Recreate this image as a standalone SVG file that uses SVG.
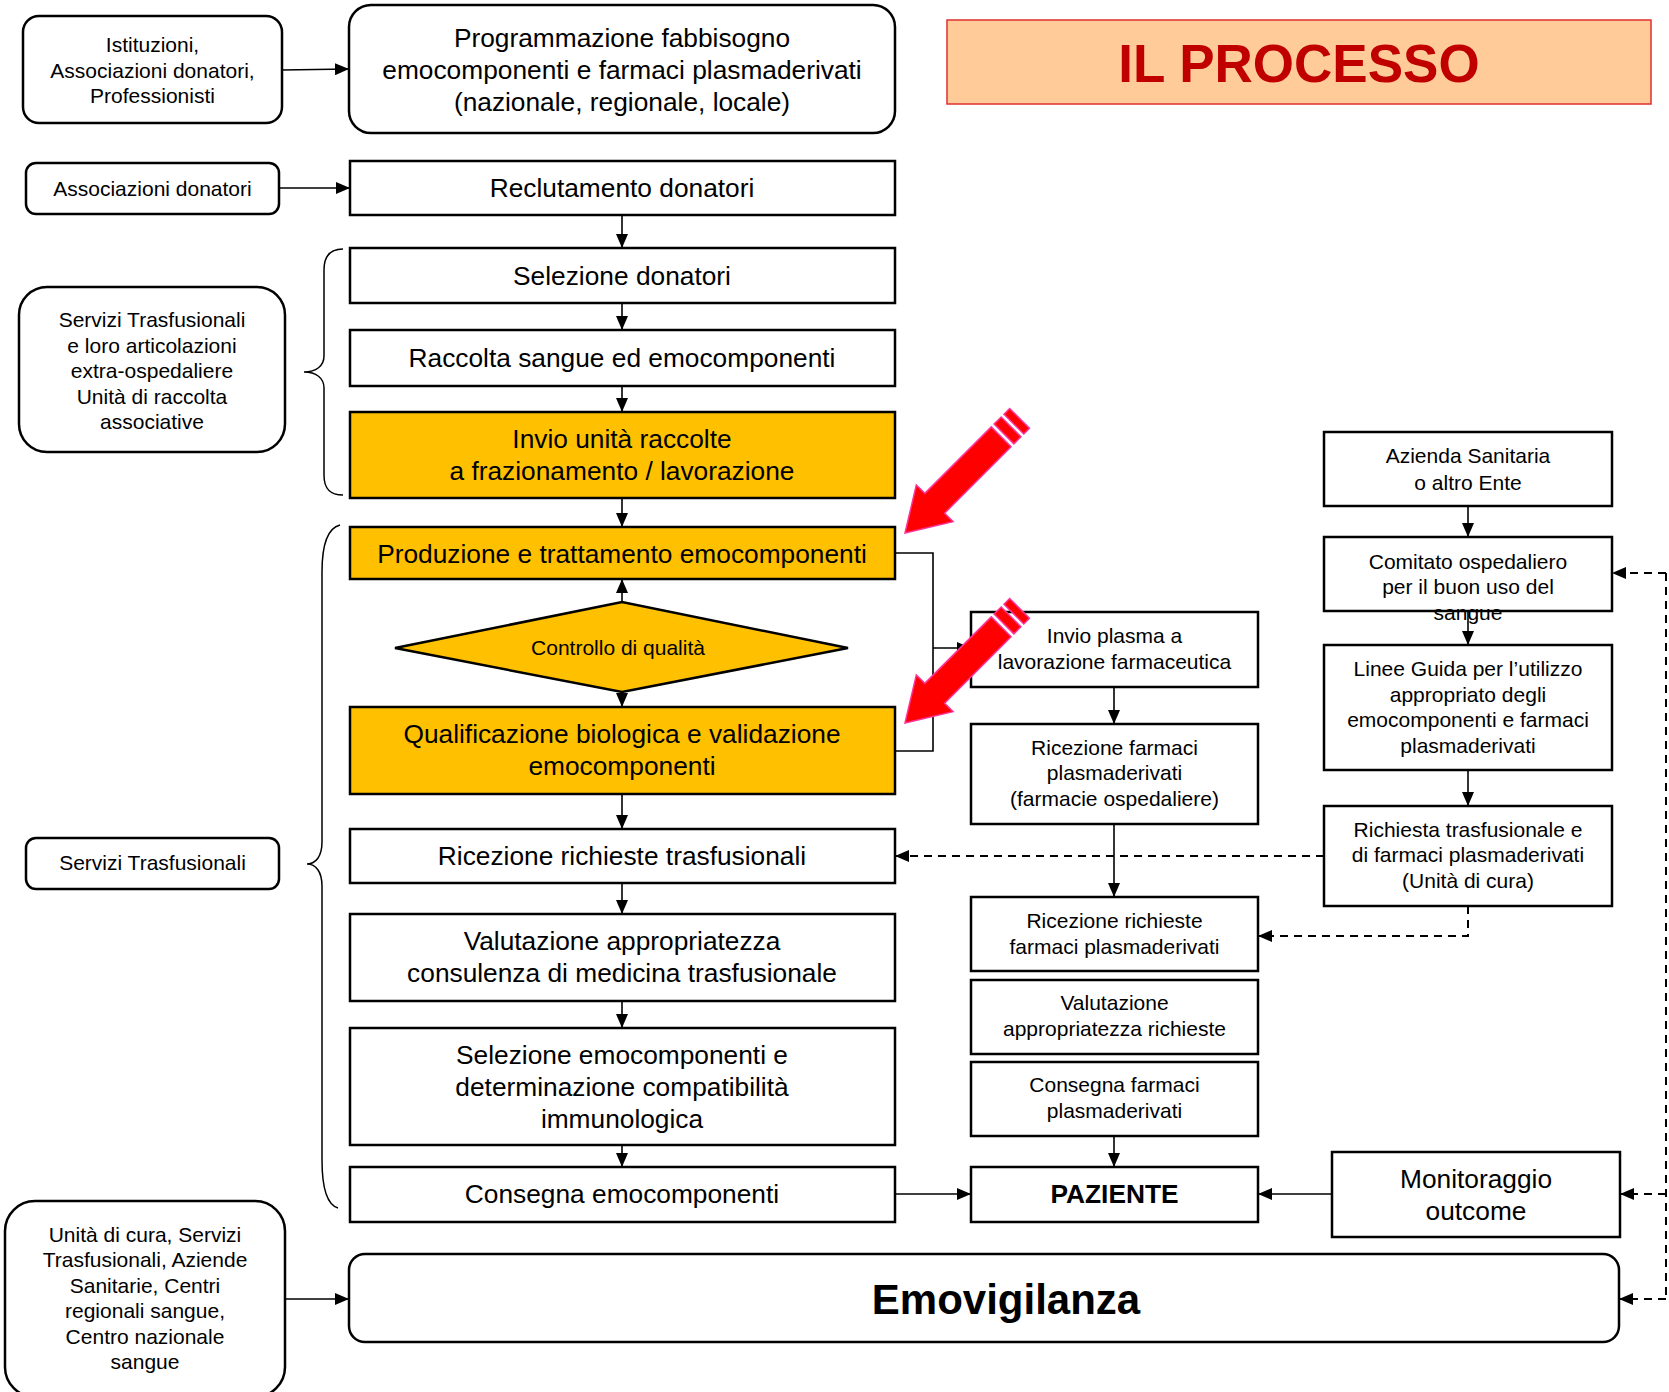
<svg xmlns="http://www.w3.org/2000/svg" width="1669" height="1392" viewBox="0 0 1669 1392">
<defs>
<marker id="ah" viewBox="0 0 14 12" refX="14" refY="6" markerWidth="14" markerHeight="12" orient="auto" markerUnits="userSpaceOnUse"><path d="M0,0 L14,6 L0,12 z" fill="#000"/></marker>
<g id="redarrow">
<polygon points="0,0 -42,-26 -42,-14 -136,-14 -136,14 -42,14 -42,26" />
<rect x="-150" y="-14" width="10" height="28"/>
<rect x="-162" y="-14" width="8" height="28"/>
</g>
</defs>
<style>
text{font-family:"Liberation Sans",Arial,sans-serif;fill:#000;text-anchor:middle}
.box{fill:#fff;stroke:#000;stroke-width:2.5}
.org{fill:#FFC000;stroke:#000;stroke-width:2.5}
.m{font-size:26.3px}
.s{font-size:21px}
.b{font-weight:bold}
.ln{fill:none;stroke:#000;stroke-width:1.6}
.ar{fill:none;stroke:#000;stroke-width:1.6;marker-end:url(#ah)}
.da{fill:none;stroke:#000;stroke-width:2;stroke-dasharray:8,6}
.dar{fill:none;stroke:#000;stroke-width:2;stroke-dasharray:8,6;marker-end:url(#ah)}
.brace{fill:none;stroke:#000;stroke-width:1.5}
.red{fill:#FF0000;stroke:#FF3399;stroke-width:1.5}
</style>
<rect width="1669" height="1392" fill="#fff"/>

<g id="title">
<rect x="947" y="20" width="704" height="84" fill="#FFCC99" stroke="#E03030" stroke-width="1.5"/>
<text x="1299" y="82" font-size="53" font-weight="bold" style="fill:#C00000">IL PROCESSO</text>
</g>

<g id="istituzioni">
<rect class="box" x="23" y="16" width="259" height="107" rx="16"/>
<text class="s" x="152.5" y="52">Istituzioni,</text>
<text class="s" x="152.5" y="78">Associazioni donatori,</text>
<text class="s" x="152.5" y="103">Professionisti</text>
</g>
<g id="programmazione">
<rect class="box" x="349" y="5" width="546" height="128" rx="22"/>
<text class="m" x="622" y="47">Programmazione fabbisogno</text>
<text class="m" x="622" y="79">emocomponenti e farmaci plasmaderivati</text>
<text class="m" x="622" y="111">(nazionale, regionale, locale)</text>
</g>
<g id="assoc">
<rect class="box" x="26" y="163" width="253" height="51" rx="10"/>
<text class="s" x="152.5" y="196">Associazioni donatori</text>
</g>
<g id="reclutamento">
<rect class="box" x="350" y="161" width="545" height="54"/>
<text class="m" x="622" y="197">Reclutamento donatori</text>
</g>
<g id="servizi1">
<rect class="box" x="19" y="287" width="266" height="165" rx="28"/>
<text class="s" x="152" y="327">Servizi Trasfusionali</text>
<text class="s" x="152" y="352.5">e loro articolazioni</text>
<text class="s" x="152" y="378">extra-ospedaliere</text>
<text class="s" x="152" y="403.5">Unità di raccolta</text>
<text class="s" x="152" y="429">associative</text>
</g>
<g id="selezione">
<rect class="box" x="350" y="248" width="545" height="55"/>
<text class="m" x="622" y="285">Selezione donatori</text>
</g>
<g id="raccolta">
<rect class="box" x="350" y="330" width="545" height="56"/>
<text class="m" x="622" y="367">Raccolta sangue ed emocomponenti</text>
</g>
<g id="invio">
<rect class="org" x="350" y="412" width="545" height="86"/>
<text class="m" x="622" y="448">Invio unità raccolte</text>
<text class="m" x="622" y="480">a frazionamento / lavorazione</text>
</g>
<g id="produzione">
<rect class="org" x="350" y="527" width="545" height="52"/>
<text class="m" x="622" y="563">Produzione e trattamento emocomponenti</text>
</g>
<g id="controllo">
<polygon class="org" points="395,648 622,602 848,648 622,692"/>
<text class="s" x="618" y="655">Controllo di qualità</text>
</g>
<g id="qualificazione">
<rect class="org" x="350" y="707" width="545" height="87"/>
<text class="m" x="622" y="743">Qualificazione biologica e validazione</text>
<text class="m" x="622" y="775">emocomponenti</text>
</g>
<g id="servizi2">
<rect class="box" x="26" y="838" width="253" height="51" rx="10"/>
<text class="s" x="152.5" y="870">Servizi Trasfusionali</text>
</g>
<g id="ricezione">
<rect class="box" x="350" y="829" width="545" height="54"/>
<text class="m" x="622" y="865">Ricezione richieste trasfusionali</text>
</g>
<g id="valutazione">
<rect class="box" x="350" y="914" width="545" height="87"/>
<text class="m" x="622" y="950">Valutazione appropriatezza</text>
<text class="m" x="622" y="982">consulenza di medicina trasfusionale</text>
</g>
<g id="selezioneemo">
<rect class="box" x="350" y="1028" width="545" height="117"/>
<text class="m" x="622" y="1064">Selezione emocomponenti e</text>
<text class="m" x="622" y="1096">determinazione compatibilità</text>
<text class="m" x="622" y="1128">immunologica</text>
</g>
<g id="consegna">
<rect class="box" x="350" y="1167" width="545" height="55"/>
<text class="m" x="622" y="1203">Consegna emocomponenti</text>
</g>
<g id="invioplasma">
<rect class="box" x="971" y="612" width="287" height="75"/>
<text class="s" x="1114.5" y="643">Invio plasma a</text>
<text class="s" x="1114.5" y="668.5">lavorazione farmaceutica</text>
</g>
<g id="ricfarmaci">
<rect class="box" x="971" y="724" width="287" height="100"/>
<text class="s" x="1114.5" y="755">Ricezione farmaci</text>
<text class="s" x="1114.5" y="780">plasmaderivati</text>
<text class="s" x="1114.5" y="806">(farmacie ospedaliere)</text>
</g>
<g id="ricrichfarmaci">
<rect class="box" x="971" y="897" width="287" height="74"/>
<text class="s" x="1114.5" y="928">Ricezione richieste</text>
<text class="s" x="1114.5" y="954">farmaci plasmaderivati</text>
</g>
<g id="valrich">
<rect class="box" x="971" y="980" width="287" height="74"/>
<text class="s" x="1114.5" y="1010">Valutazione</text>
<text class="s" x="1114.5" y="1036">appropriatezza richieste</text>
</g>
<g id="consfarmaci">
<rect class="box" x="971" y="1062" width="287" height="74"/>
<text class="s" x="1114.5" y="1092">Consegna farmaci</text>
<text class="s" x="1114.5" y="1118">plasmaderivati</text>
</g>
<g id="paziente">
<rect class="box" x="971" y="1167" width="287" height="55"/>
<text class="m b" x="1114.5" y="1203">PAZIENTE</text>
</g>
<g id="azienda">
<rect class="box" x="1324" y="432" width="288" height="74"/>
<text class="s" x="1468" y="463">Azienda Sanitaria</text>
<text class="s" x="1468" y="490">o altro Ente</text>
</g>
<g id="comitato">
<rect class="box" x="1324" y="537" width="288" height="74"/>
<text class="s" x="1468" y="568.5">Comitato ospedaliero</text>
<text class="s" x="1468" y="594">per il buon uso del</text>
<text class="s" x="1468" y="619.5">sangue</text>
</g>
<g id="linee">
<rect class="box" x="1324" y="645" width="288" height="125"/>
<text class="s" x="1468" y="676">Linee Guida per l’utilizzo</text>
<text class="s" x="1468" y="701.5">appropriato degli</text>
<text class="s" x="1468" y="727">emocomponenti e farmaci</text>
<text class="s" x="1468" y="752.5">plasmaderivati</text>
</g>
<g id="richiesta">
<rect class="box" x="1324" y="806" width="288" height="100"/>
<text class="s" x="1468" y="837">Richiesta trasfusionale e</text>
<text class="s" x="1468" y="862">di farmaci plasmaderivati</text>
<text class="s" x="1468" y="888">(Unità di cura)</text>
</g>
<g id="monitoraggio">
<rect class="box" x="1332" y="1152" width="288" height="85"/>
<text class="m" x="1476" y="1188">Monitoraggio</text>
<text class="m" x="1476" y="1220">outcome</text>
</g>
<g id="unita">
<rect class="box" x="5" y="1201" width="280" height="196" rx="30"/>
<text class="s" x="145" y="1241.5">Unità di cura, Servizi</text>
<text class="s" x="145" y="1267">Trasfusionali, Aziende</text>
<text class="s" x="145" y="1292.5">Sanitarie, Centri</text>
<text class="s" x="145" y="1318">regionali sangue,</text>
<text class="s" x="145" y="1343.5">Centro nazionale</text>
<text class="s" x="145" y="1369">sangue</text>
</g>
<g id="emovigilanza">
<rect class="box" x="349" y="1254" width="1270" height="88" rx="16"/>
<text x="1006" y="1314" font-size="42" font-weight="bold">Emovigilanza</text>
</g>

<g id="braces">
<path class="brace" d="M343,249 C330,249 324,256 324,270 L324,356 C324,366 316,372 304,372 C316,372 324,378 324,388 L324,475 C324,489 330,495 343,495"/>
<path class="brace" d="M340,525 C328,528 322,545 322,572 L322,842 C322,856 316,864 307,864 C316,864 322,872 322,886 L322,1160 C322,1190 328,1205 338,1208"/>
</g>

<g id="connectors">
<path class="ar" d="M282,70 L349,69"/>
<path class="ar" d="M279,188 L350,188"/>
<path class="ar" d="M622,215 L622,248"/>
<path class="ar" d="M622,303 L622,330"/>
<path class="ar" d="M622,386 L622,412"/>
<path class="ar" d="M622,498 L622,527"/>
<path class="ar" d="M622,602 L622,579"/>
<path class="ar" d="M622,692 L622,707"/>
<path class="ar" d="M622,794 L622,829"/>
<path class="ar" d="M622,883 L622,914"/>
<path class="ar" d="M622,1001 L622,1028"/>
<path class="ar" d="M622,1145 L622,1167"/>
<path class="ar" d="M895,1194 L971,1194"/>
<path class="ar" d="M1332,1194 L1258,1194"/>
<path class="ln" d="M895,553 L933,553 L933,751 L895,751"/>
<path class="ar" d="M933,648 L971,648"/>
<path class="ar" d="M1114,687 L1114,724"/>
<path class="ar" d="M1114,824 L1114,897"/>
<path class="ar" d="M1114,1136 L1114,1167"/>
<path class="ar" d="M1468,506 L1468,537"/>
<path class="ar" d="M1468,611 L1468,645"/>
<path class="ar" d="M1468,770 L1468,806"/>
<path class="dar" d="M1324,856 L895,856"/>
<path class="dar" d="M1468,906 L1468,936 L1258,936"/>
<path class="da" d="M1666,573 L1666,1299"/>
<path class="dar" d="M1666,573 L1612,573"/>
<path class="dar" d="M1666,1194 L1620,1194"/>
<path class="dar" d="M1666,1299 L1619,1299"/>
<path class="ar" d="M285,1299 L349,1299"/>
</g>

<g id="redarrows" class="red">
<use href="#redarrow" transform="translate(905,533) rotate(135)"/>
<use href="#redarrow" transform="translate(905,723) rotate(135)"/>
</g>
</svg>
